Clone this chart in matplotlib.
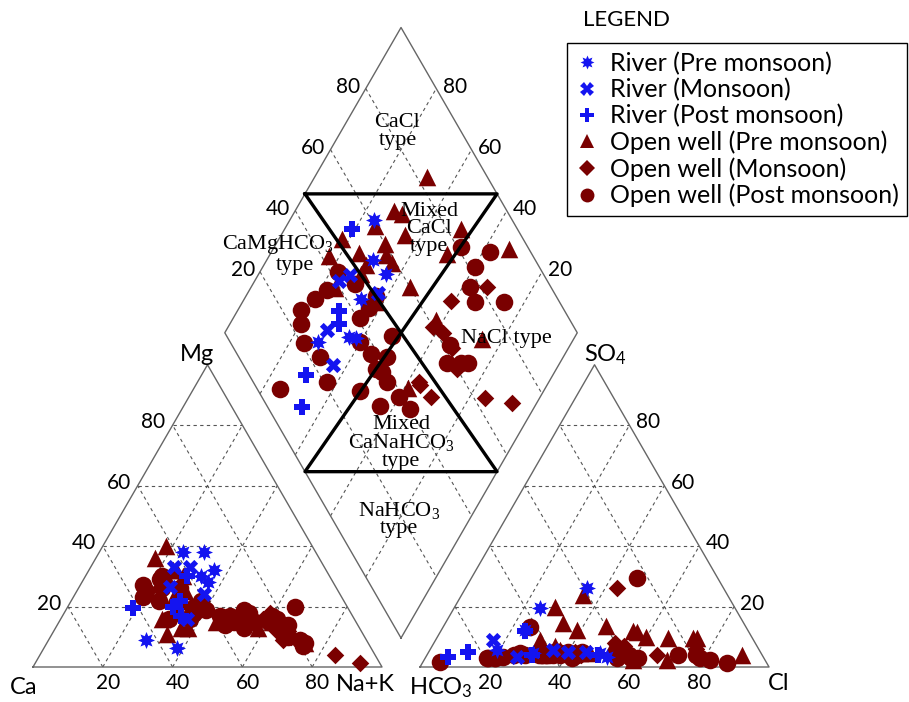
"""
Piper diagram: river and open-well samples across three seasons.
"""
import matplotlib

matplotlib.use("Agg")
import matplotlib.pyplot as plt
import numpy as np
from matplotlib.lines import Line2D

plt.rcParams["mathtext.default"] = "regular"

SANS = ["Lato", "DejaVu Sans"]
SERIF = ["Liberation Serif", "DejaVu Serif"]

# ---- sample data, percent of meq (Na+K, Mg, Cl, SO4) ----
ow_pre_na = [32, 28, 31, 25, 31, 35, 36, 45, 18, 17, 29, 25, 67, 50, 50, 29, 33, 38, 61, 24, 74, 58]
ow_pre_mg = [22, 30, 25, 32, 20, 18, 13, 15, 40, 36, 23, 28, 12, 16, 18, 16, 11, 13, 15, 32, 8, 13]
ow_pre_cl = [73.4, 56.4, 59.8, 54.5, 55, 55, 51.9, 46.3, 28.8, 35.2, 38.9, 46.3, 90.3, 74.5, 66.3,
             33.7, 34.8, 43.5, 37.3, 29.9, 69.6, 59.8]
ow_pre_so4 = [9.6, 11.6, 10, 5.6, 5, 12, 7, 13.7, 19.9, 6.8, 12.2, 4.7, 4, 9.6, 9.6, 14.6, 23.8,
              4.6, 5.6, 8.9, 2.3, 2.3]

ow_mon_na = [63, 69, 59, 67, 62, 58, 67, 72, 84.5, 93, 64]
ow_mon_mg = [14, 10, 18, 12, 15, 16, 9, 9, 4, 1.3, 12]
ow_mon_cl = [42, 44, 43.4, 57, 55, 52, 76, 56, 60, 66, 43]
ow_mon_so4 = [5, 4, 26.1, 5, 7, 8, 6, 4, 3, 4, 4]

ow_post_na = [25, 18, 20, 20, 24, 31, 37, 36, 37, 37, 40, 45, 49, 48, 50, 48, 60, 54, 51, 56, 65,
              62, 60, 66, 62, 68, 74, 53, 74, 66, 72, 22, 22, 29]
ow_post_mg = [22, 27, 25, 23, 26, 16, 16, 20, 22, 18, 19, 17, 16, 17, 15, 14, 15, 13, 19, 15, 20,
              16, 17, 14, 15, 10, 8, 18, 7, 12, 9, 30, 29, 26]
ow_post_cl = [4.9, 22.1, 26.4, 20, 17.7, 20, 18, 36, 40, 44, 33, 34, 33, 43, 38, 24.9, 35, 34, 24.9,
              28, 36, 87.3, 78.7, 72, 47.5, 55, 61, 77, 81.9, 58, 59, 32, 37, 42]
ow_post_so4 = [1.7, 3.3, 4.6, 3, 3, 3, 3, 5, 5, 5, 4, 4, 4, 4, 4, 4, 4, 4, 13.2, 4, 4, 1.3, 3, 4,
               29.5, 3, 3, 4, 2.3, 4, 3, 4, 5, 3]

riv_pre_na = [24, 30, 36, 33, 36, 38, 28]
riv_pre_mg = [38, 38, 32, 30, 28, 6.3, 9]
riv_pre_cl = [34.8, 49.3, 51.9, 24.6, 30.1, 24, 19.3]
riv_pre_so4 = [26.1, 4.6, 3.3, 19.5, 4.6, 12.2, 5.6]

riv_mon_na = [24, 28.5, 36, 26, 37]
riv_mon_mg = [33, 33, 16, 26.5, 24]
riv_mon_cl = [35.3, 26.1, 16.4, 40, 45]
riv_mon_so4 = [5.6, 3.3, 8.9, 5, 5]

riv_post_na = [19, 31, 30, 34, 29]
riv_post_mg = [19.5, 22, 20, 17, 30]
riv_post_cl = [49, 30, 11.3, 6.3, 24]
riv_post_so4 = [4, 4, 5, 3.3, 12]

GRID_VALUES = [20, 40, 60, 80]

# ---- geometry ----
H = np.sqrt(3) / 2
GAP = 0.109
AN_X = 1 + GAP
DIA_B = (1 + GAP / 2, 0.083)
DS = 1.01
HOURGLASS = 0.455

BLUE = "#1414F0"
RED = "#7A0000"
LINE = "#666666"
GRID = "#555555"

# chunky 8-point asterisk marker
_ang = np.linspace(0, 2 * np.pi, 17)[:-1] + np.pi / 2
_rad = np.where(np.arange(16) % 2 == 0, 1.0, 0.55)
ASTERISK = list(zip(_rad * np.cos(_ang), _rad * np.sin(_ang)))


def cation_xy(na, mg):
    na = np.asarray(na, float) / 100
    mg = np.asarray(mg, float) / 100
    return na + mg / 2, mg * H


def anion_xy(cl, so4):
    cl = np.asarray(cl, float) / 100
    so4 = np.asarray(so4, float) / 100
    return AN_X + cl + so4 / 2, so4 * H


def diamond_xy(na, s):
    na = np.asarray(na, float) / 100
    s = np.asarray(s, float) / 100
    return DIA_B[0] + DS * 0.5 * (s - (1 - na)), DIA_B[1] + DS * H * ((1 - na) + s)


def dashed(ax, x, y):
    ax.plot(x, y, color=GRID, lw=0.8, ls=(0, (3, 3)), zorder=1)


fig = plt.figure(figsize=(9.09, 7.02), dpi=100)
ax = fig.add_axes([0, 0, 1, 1])
ax.set_xlim(-33 / 349, 876 / 349)
ax.set_ylim(-35 / 349, 667 / 349)
ax.axis("off")

# triangle outlines + grids
for x0 in (0, AN_X):
    ax.plot([x0, x0 + 1, x0 + 0.5, x0], [0, 0, H, 0], color=LINE, lw=1.0, zorder=2)
    for v in GRID_VALUES:
        f = v / 100
        dashed(ax, [x0 + f / 2, x0 + 1 - f / 2], [f * H, f * H])
        dashed(ax, [x0 + f, x0 + f + (1 - f) / 2], [0, (1 - f) * H])
        dashed(ax, [x0 + 1 - f, x0 + (1 - f) / 2], [0, (1 - f) * H])

# diamond outline + grid
dx, dy = diamond_xy([100, 0, 0, 100, 100], [0, 0, 100, 100, 0])
ax.plot(dx, dy, color=LINE, lw=1.0, zorder=2)
for v in GRID_VALUES:
    gx, gy = diamond_xy([0, 100], [v, v])
    dashed(ax, gx, gy)
    gx, gy = diamond_xy([v, v], [0, 100])
    dashed(ax, gx, gy)

# hourglass sub-division
cx, cy = diamond_xy(50, 50)
hh = HOURGLASS * DS * H
hw = DS * 0.5 * (1 - HOURGLASS)
ax.plot([cx - hw, cx + hw, cx - hw, cx + hw, cx - hw],
        [cy + hh, cy + hh, cy - hh, cy - hh, cy + hh], color="black", lw=2.4, zorder=5)

# samples
series = [
    ("Open well (Pre monsoon)", RED, "^", 160, ow_pre_na, ow_pre_mg, ow_pre_cl, ow_pre_so4),
    ("Open well (Monsoon)", RED, "D", 80, ow_mon_na, ow_mon_mg, ow_mon_cl, ow_mon_so4),
    ("Open well (Post monsoon)", RED, "o", 160, ow_post_na, ow_post_mg, ow_post_cl, ow_post_so4),
    ("River (Pre monsoon)", BLUE, ASTERISK, 150, riv_pre_na, riv_pre_mg, riv_pre_cl, riv_pre_so4),
    ("River (Monsoon)", BLUE, "X", 120, riv_mon_na, riv_mon_mg, riv_mon_cl, riv_mon_so4),
    ("River (Post monsoon)", BLUE, "P", 120, riv_post_na, riv_post_mg, riv_post_cl, riv_post_so4),
]
for label, color, marker, size, na, mg, cl, so4 in series:
    s = np.asarray(cl, float) + np.asarray(so4, float)
    for x, y in (cation_xy(na, mg), anion_xy(cl, so4), diamond_xy(na, s)):
        ax.scatter(x, y, s=size, c=color, marker=marker, linewidths=0, zorder=4)

# axis labels and tick numbers
tick_kw = dict(fontsize=15, family=SANS, color="black", zorder=6)
for v in GRID_VALUES:
    f = v / 100
    ax.text(f + 0.015, -0.047, str(v), ha="center", va="center", **tick_kw)
    ax.text(AN_X + f, -0.047, str(v), ha="center", va="center", **tick_kw)
    ax.text(f / 2 - 0.02, f * H + 0.008, str(v), ha="right", va="center", **tick_kw)
    ax.text(AN_X + 1 - f / 2 + 0.018, f * H + 0.008, str(v), ha="left", va="center", **tick_kw)
    lx, ly = diamond_xy(0, v)
    ax.text(lx - 0.015, ly + 0.005, str(v), ha="right", va="center", **tick_kw)
    rx, ry = diamond_xy(100 - v, 100)
    ax.text(rx + 0.018, ry + 0.005, str(v), ha="left", va="center", **tick_kw)

lab_kw = dict(fontsize=17, family=SANS, color="black", ha="center", va="center", zorder=6)
ax.text(-0.026, -0.06, "Ca", **lab_kw)
ax.text(0.951, -0.05, "Na+K", **lab_kw)
ax.text(0.47, H + 0.028, "Mg", **lab_kw)
ax.text(AN_X + 0.06, -0.058, "HCO$_3$", **lab_kw)
ax.text(AN_X + 1.027, -0.047, "Cl", **lab_kw)
ax.text(AN_X + 0.53, H + 0.028, "SO$_4$", **lab_kw)

# water-type annotations (diamond coordinates: Na+K %, Cl+SO4 %)
ann_kw = dict(fontsize=16, family=SERIF, ha="center", va="center", linespacing=0.9, zorder=6)
for text, na, s in [
    ("CaCl\ntype", 16, 82),
    ("Mixed\nCaCl\ntype", 41, 75),
    ("CaMgHCO$_3$", 0.5, 29.5),
    ("type", 9, 31),
    ("NaCl type", 81, 79),
    ("Mixed\nCaNaHCO$_3$\ntype", 68, 32),
    ("NaHCO$_3$\ntype", 80, 19),
]:
    tx, ty = diamond_xy(na, s)
    ax.text(tx, ty, text, **ann_kw)

# legend
handles = []
labels = []
for label, color, marker, size, *_ in series[3:] + series[:3]:
    ms = 10 if marker != "D" else 8
    handles.append(Line2D([], [], ls="", marker=marker, color=color, markersize=ms, markeredgewidth=0))
    labels.append(label)
leg = ax.legend(handles, labels, loc="upper left", bbox_to_anchor=(567 / 909, 1 - 43 / 702),
                frameon=True, fancybox=False, edgecolor="black", framealpha=1,
                prop={"family": SANS, "size": 18}, handlelength=0.9, handletextpad=0.45,
                labelspacing=0.12, borderpad=0.35, borderaxespad=0)
leg.get_frame().set_linewidth(1.0)
fig.text(583 / 909, 1 - 20 / 702, "LEGEND", fontsize=16, family=SANS, ha="left", va="center")

fig.savefig("out.png", dpi=100)
